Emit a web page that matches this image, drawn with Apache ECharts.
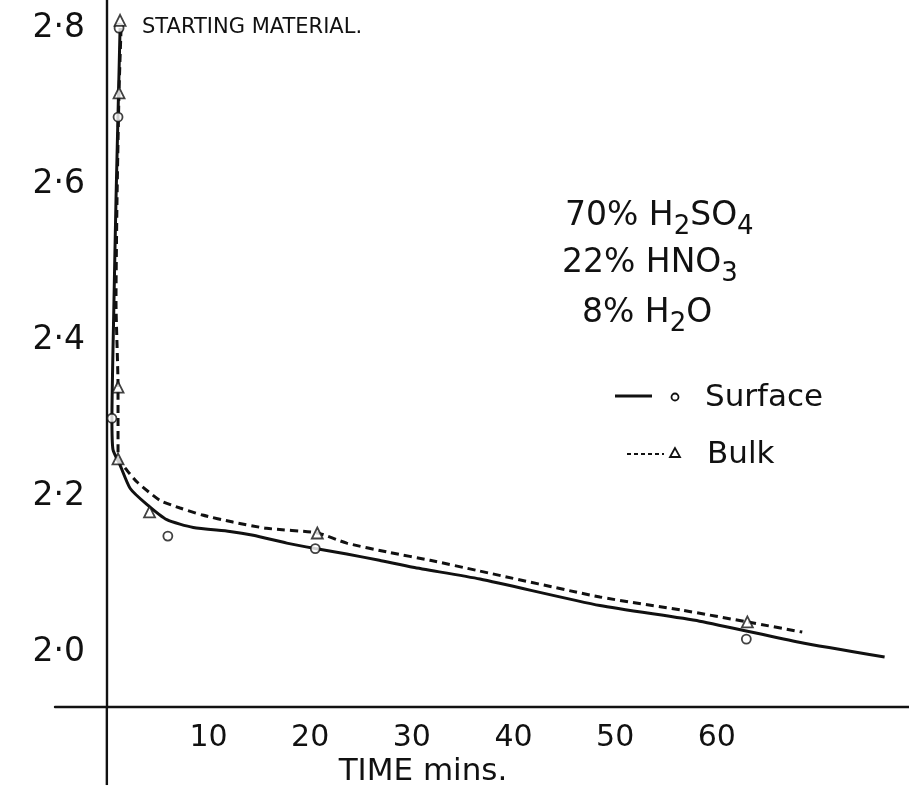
<!DOCTYPE html>
<html>
<head>
<meta charset="utf-8">
<script src="https://cdn.jsdelivr.net/npm/echarts@6/dist/echarts.min.js"></script>
<style>
html,body{margin:0;padding:0;background:#fff;}
#chart{width:909px;height:793px;}
</style>
</head>
<body>
<div id="chart"></div>
<script>
// ---- data (time in minutes, value on the y scale) ----
const xTickValues = [10, 20, 30, 40, 50, 60];
const yTickValues = [2.0, 2.2, 2.4, 2.6, 2.8];

const surfaceCurveT = [1.3, 1.1, 0.9, 0.7, 0.5, 0.6, 1.3, 2.3, 3.9, 5.9, 8.5, 12.1, 14.4, 17.7, 20.5, 23.6, 26.8, 30.1, 36.7, 48.5, 58.3, 68.1, 76.5];
const surfaceCurveV = [2.80, 2.69, 2.58, 2.45, 2.30, 2.26, 2.24, 2.21, 2.19, 2.17, 2.16, 2.155, 2.15, 2.14, 2.133, 2.126, 2.118, 2.109, 2.094, 2.06, 2.04, 2.013, 1.994];

const bulkCurveT = [1.4, 1.2, 1.0, 0.9, 1.1, 1.1, 2.0, 3.0, 5.2, 7.2, 9.4, 12.4, 15.7, 20.7, 23.6, 27.8, 31.8, 36.4, 48.5, 56.6, 63.0, 68.4];
const bulkCurveV = [2.80, 2.72, 2.58, 2.45, 2.34, 2.25, 2.233, 2.218, 2.195, 2.185, 2.176, 2.167, 2.159, 2.153, 2.14, 2.128, 2.118, 2.105, 2.071, 2.054, 2.039, 2.026];

const surfacePointsT = [1.2, 1.1, 0.5, 6.0, 20.5, 62.9];
const surfacePointsV = [2.80, 2.686, 2.30, 2.149, 2.133, 2.017];

const bulkPointsT = [1.3, 1.2, 1.1, 1.1, 4.2, 20.7, 63.0];
const bulkPointsV = [2.81, 2.717, 2.34, 2.248, 2.180, 2.153, 2.039];

// the hand-drawn time axis continues below the crossing point
const stubT = [0, 0];
const stubV = [1.93, 1.83];

const zip = (a, b) => a.map((v, i) => [v, b[i]]);
const FONT = 'DejaVu Sans';
const INK = '#111';

const chart = echarts.init(document.getElementById('chart'), null, {renderer: 'canvas'});

const subRich = {
  a: {fontSize: 33, fontFamily: FONT, lineHeight: 44, fill: INK},
  s: {fontSize: 26, fontFamily: FONT, lineHeight: 26, padding: [22, 0, 0, 0], fill: INK}
};

chart.setOption({
  backgroundColor: '#fff',
  animation: false,
  grid: {left: 55, right: 0, top: 0, bottom: 86, containLabel: false, outerBoundsMode: 'none'},
  xAxis: {
    type: 'value', min: -5.1, max: 78.9,
    axisLine: {onZero: false, lineStyle: {color: INK, width: 2.4}},
    axisTick: {show: false},
    splitLine: {show: false},
    axisLabel: {customValues: xTickValues, fontSize: 30, fontFamily: FONT, color: INK, margin: 16}
  },
  yAxis: {
    type: 'value', min: 1.93, max: 2.836,
    axisLine: {show: true, onZero: true, lineStyle: {color: INK, width: 2.4}},
    axisTick: {show: false},
    splitLine: {show: false},
    axisLabel: {
      customValues: yTickValues, fontSize: 33, fontFamily: FONT, color: INK, margin: -30,
      formatter: v => v.toFixed(1).replace('.', '\u00B7')
    }
  },
  series: [
    {
      name: 'axisStub', type: 'line', data: zip(stubT, stubV), clip: false,
      showSymbol: false, silent: true, lineStyle: {color: INK, width: 2.4}
    },
    {
      name: 'Surface', type: 'line', data: zip(surfaceCurveT, surfaceCurveV),
      showSymbol: false, smooth: 0.2, lineStyle: {color: INK, width: 3}
    },
    {
      name: 'Bulk', type: 'line', data: zip(bulkCurveT, bulkCurveV),
      showSymbol: false, smooth: 0.2, lineStyle: {color: INK, width: 3, type: [8, 5]}
    },
    {
      name: 'Surface points', type: 'scatter', data: zip(surfacePointsT, surfacePointsV),
      symbol: 'circle', symbolSize: 9, z: 5,
      itemStyle: {color: '#fff', borderColor: INK, borderWidth: 1.8}
    },
    {
      name: 'Bulk points', type: 'scatter', data: zip(bulkPointsT, bulkPointsV),
      symbol: 'triangle', symbolSize: 11, z: 5,
      itemStyle: {color: '#fff', borderColor: INK, borderWidth: 1.8}
    }
  ],
  graphic: [
    {type: 'text', x: 142, y: 28, style: {text: 'STARTING MATERIAL.', font: '21px ' + FONT, fill: INK, verticalAlign: 'middle'}},
    {type: 'text', x: 565, y: 216, style: {text: '{a|70% H}{s|2}{a|SO}{s|4}', rich: subRich, fill: INK, verticalAlign: 'middle'}},
    {type: 'text', x: 562, y: 263, style: {text: '{a|22% HNO}{s|3}', rich: subRich, fill: INK, verticalAlign: 'middle'}},
    {type: 'text', x: 582, y: 313, style: {text: '{a|8% H}{s|2}{a|O}', rich: subRich, fill: INK, verticalAlign: 'middle'}},
    {type: 'line', shape: {x1: 615, y1: 396, x2: 652, y2: 396}, style: {stroke: INK, lineWidth: 2.8}},
    {type: 'circle', shape: {cx: 675, cy: 397, r: 3.5}, style: {fill: '#fff', stroke: INK, lineWidth: 1.8}},
    {type: 'text', x: 705, y: 398, style: {text: 'Surface', font: '31px ' + FONT, fill: INK, verticalAlign: 'middle'}},
    {type: 'line', shape: {x1: 627, y1: 454, x2: 664, y2: 454}, style: {stroke: INK, lineWidth: 2.2, lineDash: [4, 3]}},
    {type: 'polygon', shape: {points: [[675, 448], [670, 457], [680, 457]]}, style: {fill: '#fff', stroke: INK, lineWidth: 1.8}},
    {type: 'text', x: 707, y: 455, style: {text: 'Bulk', font: '31px ' + FONT, fill: INK, verticalAlign: 'middle'}},
    {type: 'text', x: 423, y: 772, style: {text: 'TIME mins.', font: '31px ' + FONT, fill: INK, align: 'center', verticalAlign: 'middle'}}
  ]
});
</script>
</body>
</html>
